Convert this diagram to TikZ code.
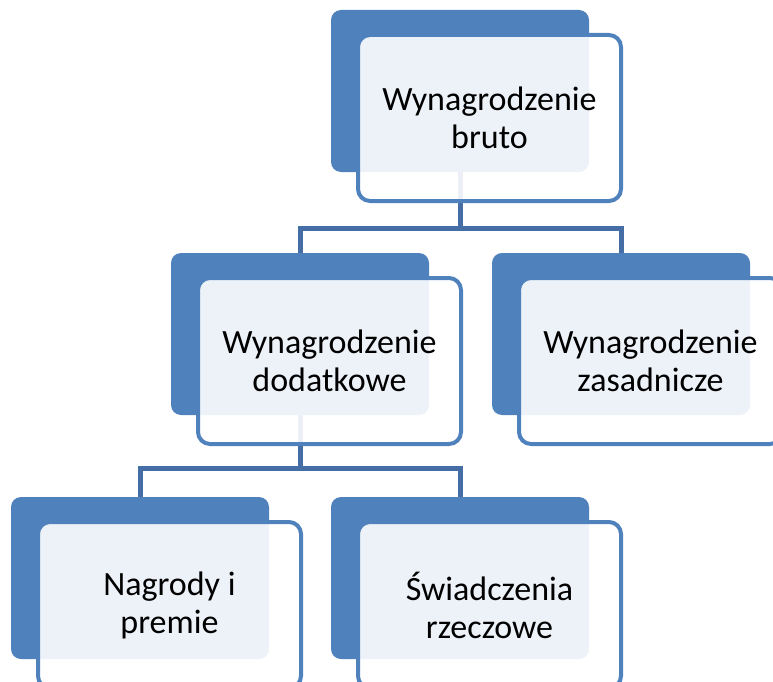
\documentclass[tikz,border=0pt]{standalone}
\usepackage{fontspec}
\setmainfont{Carlito}
\usetikzlibrary{positioning, backgrounds}

\definecolor{boxblue}{RGB}{79,129,189}
\definecolor{linkblue}{RGB}{68,110,165}

\tikzset{
    tlo/.style={rectangle, rounded corners=10pt, fill=boxblue, minimum width=258pt, minimum height=162pt, inner sep=0pt, outer sep=0pt, anchor=north west},
    karta/.style={rectangle, rounded corners=12pt, draw=boxblue, line width=4pt, fill=white, fill opacity=0.9, text opacity=1, minimum width=263pt, minimum height=166pt, inner sep=0pt, align=center, font=\fontsize{34}{38}\selectfont},
    laczenie/.style={draw=linkblue, line width=5pt}
}

\begin{document}
\begin{tikzpicture}[x=1pt, y=-1pt]
        \useasboundingbox (0,0) rectangle (773,682);
        \clip (0,0) rectangle (773,682);

        % Nodes
        \node (brutoTlo) [tlo] at (331,10) {};
        \node (bruto) [karta, below right=23pt and 25pt of brutoTlo.north west] {Wynagrodzenie\\bruto};

        \node (dodatTlo) [tlo] at (171,253) {};
        \node (dodat) [karta, below right=23pt and 25pt of dodatTlo.north west] {Wynagrodzenie\\dodatkowe};

        \node (zasadTlo) [tlo] at (492,253) {};
        \node (zasad) [karta, below right=23pt and 25pt of zasadTlo.north west] {Wynagrodzenie\\zasadnicze};

        \node (nagrodyTlo) [tlo] at (11,497) {};
        \node (nagrody) [karta, below right=23pt and 25pt of nagrodyTlo.north west] {Nagrody i\\premie};

        \node (swiadTlo) [tlo] at (331,497) {};
        \node (swiad) [karta, below right=23pt and 25pt of swiadTlo.north west] {Świadczenia\\rzeczowe};

        % Edges
        \begin{scope}[on background layer]
            \draw[laczenie] (brutoTlo.south) -- ++(0,56) -| (dodatTlo.north);
            \draw[laczenie] (brutoTlo.south) -- ++(0,56) -| (zasadTlo.north);
            \draw[laczenie] (dodatTlo.south) -- ++(0,53) -| (nagrodyTlo.north);
            \draw[laczenie] (dodatTlo.south) -- ++(0,53) -| (swiadTlo.north);
        \end{scope}
    \end{tikzpicture}
\end{document}
